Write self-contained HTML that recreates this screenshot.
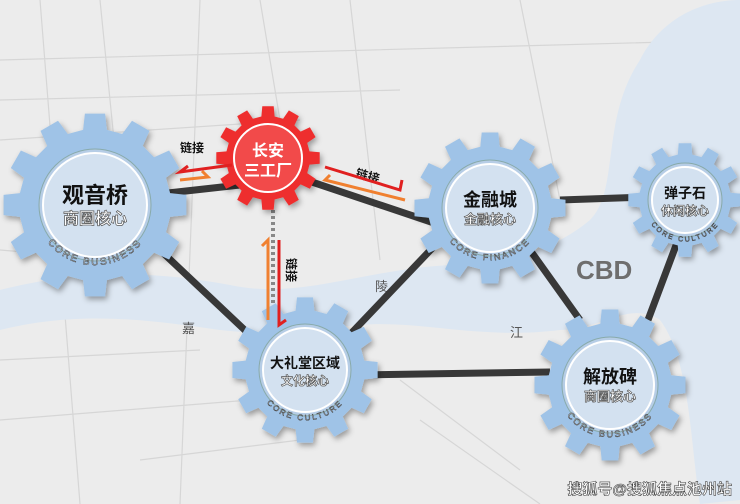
<!DOCTYPE html>
<html><head><meta charset="utf-8"><style>
html,body{margin:0;padding:0;width:740px;height:504px;overflow:hidden;background:#f1f1f1}
svg text{font-family:"Liberation Sans","Noto Sans CJK SC",sans-serif}
</style></head><body>
<svg id="s" width="740" height="504" viewBox="0 0 740 504" xmlns="http://www.w3.org/2000/svg">
<defs><filter id="sh" x="-20%" y="-20%" width="140%" height="140%"><feDropShadow dx="2" dy="3" stdDeviation="3" flood-color="#000" flood-opacity="0.35"/></filter></defs>
<rect width="740" height="504" fill="#ececec"/>
<g stroke="#d6d6d6" stroke-width="1.2" fill="none">
<path d="M0 60 L740 40 M0 140 L300 120 M40 0 L80 504 M200 0 L180 504 M350 0 L380 260 M0 420 L250 400 M420 420 L540 504 M520 0 L560 200 M0 250 L120 260 M140 460 L300 440 M700 300 L740 320 M0 100 L400 90 M100 0 L130 300 M0 360 L200 350 M400 380 L520 470 M260 0 L280 120"/>
</g>
<path d="M0 290 C80 270 150 270 230 285 C300 300 360 270 450 265 C520 262 560 245 590 220 C620 190 600 120 640 60 C660 20 700 0 740 0 L740 500 L700 504 C690 440 690 360 660 320 C630 300 600 330 560 330 C480 340 420 320 360 325 C300 330 260 335 220 330 C150 320 80 310 0 330 Z" fill="#dde7f2"/>
<text x="375" y="291" font-size="13" fill="#555">陵</text>
<text x="182" y="333" font-size="13" fill="#555">嘉</text>
<text x="510" y="337" font-size="13" fill="#555">江</text>
<text x="576" y="279" font-size="26" font-weight="bold" fill="#6e6e6e">CBD</text>
<g stroke="#383838" stroke-width="7">
<line x1="150" y1="195" x2="240" y2="185"/>
<line x1="300" y1="178" x2="440" y2="225"/>
<line x1="160" y1="250" x2="250" y2="335"/>
<line x1="340" y1="345" x2="440" y2="240"/>
<line x1="360" y1="375" x2="550" y2="372"/>
<line x1="560" y1="200" x2="645" y2="197"/>
<line x1="530" y1="250" x2="580" y2="320"/>
<line x1="678" y1="240" x2="648" y2="320"/>
</g>
<line x1="273" y1="210" x2="273" y2="330" stroke="#888" stroke-width="4" stroke-dasharray="3,3"/>
<g id="gears"></g>
<g font-weight="bold" font-size="12" fill="#111">
<text x="180" y="152">链接</text>
<text x="355" y="177" transform="rotate(15 355 177)">链接</text>
<text x="287" y="258" transform="rotate(90 287 258)">链接</text>
</g>
<g stroke-width="3" fill="none">
<path d="M232 165 L180 172 L188 166" stroke="#e02020"/>
<path d="M180 180 L208 177 L202 171" stroke="#f08030"/>
<path d="M325 167 L400 190 L402 180" stroke="#e02020"/>
<path d="M405 200 L325 180 L330 175" stroke="#f08030"/>
<path d="M268 320 L268 240 L262 246" stroke="#f08030"/>
<path d="M279 240 L279 325 L286 320" stroke="#e02020"/>
</g>
<text x="732" y="494" text-anchor="end" font-size="15" font-weight="bold" fill="#fff" stroke="#444" stroke-width="0.6">搜狐号@搜狐焦点池州站</text>
</svg>
<script>
function gear(cx,cy,ro,ri,n,col){
 let d="";
 for(let i=0;i<n;i++){
  const a=i/n*2*Math.PI, t=Math.PI/n;
  const pts=[[ri,a-t*0.6],[ro,a-t*0.42],[ro,a+t*0.42],[ri,a+t*0.6],[ri,a+t*1.4]];
  pts.forEach((p,j)=>{d+=(i==0&&j==0?"M":"L")+(cx+p[0]*Math.cos(p[1])).toFixed(1)+" "+(cy+p[0]*Math.sin(p[1])).toFixed(1)+" ";});
 }
 return '<path d="'+d+'Z" fill="'+col+'" filter="url(#sh)"/>';
}
const G=[
 [95,205,92,76,12,52,"观音桥","商圈核心","CORE BUSINESS",22],
 [490,208,76,62,12,44,"金融城","金融核心","CORE FINANCE",18],
 [685,200,57,46,12,33,"弹子石","休闲核心","CORE CULTURE",14],
 [305,370,73,60,12,42,"大礼堂区域","文化核心","CORE CULTURE",14],
 [610,385,76,62,12,44,"解放碑","商圈核心","CORE BUSINESS",18]
];
let h="";
G.forEach((g,k)=>{
 const[cx,cy,ro,ri,n,ir,t1,t2,t3,fs]=g;
 h+=gear(cx,cy,ro,ri,n,"#9fc3e7");
 h+='<circle cx="'+cx+'" cy="'+cy+'" r="'+(ir+4)+'" fill="#b6cde6" stroke="#8aa" stroke-width="1"/>';
 h+='<circle cx="'+cx+'" cy="'+cy+'" r="'+ir+'" fill="#d3e1f0" stroke="#fff" stroke-width="2"/>';
 h+='<text x="'+cx+'" y="'+(cy-2)+'" text-anchor="middle" font-size="'+fs+'" font-weight="bold" fill="#111">'+t1+'</text>';
 const sf=Math.max(12,Math.round(fs*0.72));
 h+='<text x="'+cx+'" y="'+(cy+sf+3)+'" text-anchor="middle" font-size="'+sf+'" fill="#fff" stroke="#555" stroke-width="0.7" font-weight="bold">'+t2+'</text>';
 const r=ir+9;
 h+='<path id="arc'+k+'" d="M'+(cx-r*0.95)+' '+(cy+r*0.3)+' A'+r+' '+r+' 0 0 0 '+(cx+r*0.95)+' '+(cy+r*0.3)+'" fill="none"/>';
 h+='<text font-size="'+Math.round(ir*0.2)+'" fill="#eaf2fb" stroke="#444" stroke-width="0.5" letter-spacing="2"><textPath href="#arc'+k+'" startOffset="50%" text-anchor="middle">'+t3+'</textPath></text>';
});
h+=gear(268,158,52,42,12,"#ee2e2e");
h+='<circle cx="268" cy="158" r="34" fill="#f24a4a" stroke="#fff" stroke-width="2"/>';
h+='<text x="268" y="156" text-anchor="middle" font-size="16" font-weight="bold" fill="#fff">长安</text>';
h+='<text x="268" y="176" text-anchor="middle" font-size="16" font-weight="bold" fill="#fff">三工厂</text>';
document.getElementById("gears").innerHTML=h;
</script>
</body></html>
